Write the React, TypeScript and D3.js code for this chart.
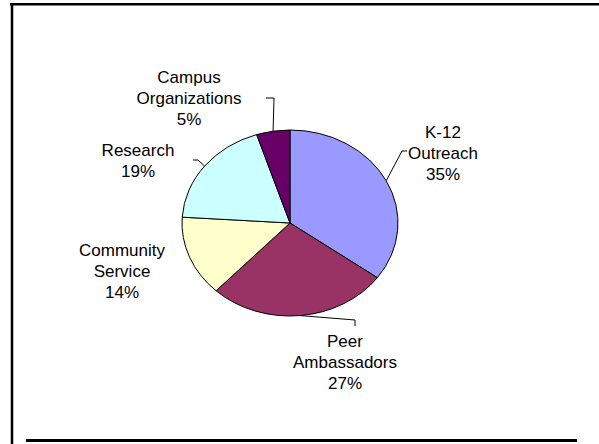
import * as d3 from 'd3';
import React, { useRef, useEffect } from 'react';

// slice data, clockwise from 12 o'clock
const categories = ['K-12 Outreach', 'Peer Ambassadors', 'Community Service', 'Research', 'Campus Organizations'];
const values = [35, 27, 14, 19, 5];
const labelLines = [['K-12', 'Outreach'], ['Peer', 'Ambassadors'], ['Community', 'Service'], ['Research'], ['Campus', 'Organizations']];
const colors = ['#9999FF', '#993366', '#FFFFCC', '#CCFFFF', '#660066'];

// label block centres and leader elbows (layout)
const labelCenter = [[443, 153], [345, 362], [122, 271], [138, 160], [189, 98]];
const leaders: (number[][] | null)[] = [
  [[402, 151], [407, 151]],
  [[355, 320], [355, 326]],
  null,
  [[198, 160], [193, 160]],
  [[274, 98], [266, 98]],
];

function PieChart({ width, height }) {
  const ref = useRef();

  useEffect(() => {
    draw();
  }, []);

  const draw = () => {
    const svg = d3.select(ref.current);
    svg.selectAll('*').remove();

    const cx = 290, cy = 223, rx = 108, ry = 93;
    const fontSize = 17, lineH = 21;

    // frame
    svg.append('line').attr('x1', 10).attr('x2', 599).attr('y1', 4.2).attr('y2', 4.2)
      .attr('stroke', 'black').attr('stroke-width', 2.5);
    svg.append('line').attr('x1', 12).attr('x2', 12).attr('y1', 3).attr('y2', 444)
      .attr('stroke', 'black').attr('stroke-width', 2.5);
    svg.append('line').attr('x1', 26).attr('x2', 577).attr('y1', 440.5).attr('y2', 440.5)
      .attr('stroke', 'black').attr('stroke-width', 3);

    const pie = d3.pie().sort(null).value((d) => d)(values);
    const arc = d3.arc().innerRadius(0).outerRadius(rx);

    const g = svg.append('g')
      .attr('transform', 'translate(' + cx + ',' + cy + ') scale(1,' + (ry / rx) + ')');

    g.selectAll('path')
      .data(pie)
      .enter()
      .append('path')
      .attr('d', arc)
      .attr('fill', (d, i) => colors[i])
      .attr('stroke', 'black')
      .attr('stroke-width', 1)
      .attr('vector-effect', 'non-scaling-stroke');

    // leader lines: from the pie edge at mid angle to the elbow
    pie.forEach((d, i) => {
      const pts = leaders[i];
      if (!pts) return;
      const a = (d.startAngle + d.endAngle) / 2;
      const start = [cx + rx * Math.sin(a), cy - ry * Math.cos(a)];
      svg.append('path')
        .attr('d', d3.line()([start, ...pts]))
        .attr('fill', 'none')
        .attr('stroke', 'black')
        .attr('stroke-width', 1);
    });

    // labels
    categories.forEach((c, i) => {
      const lines = [...labelLines[i], values[i] + '%'];
      const [lx, ly] = labelCenter[i];
      const top = ly - ((lines.length - 1) * lineH) / 2;
      const t = svg.append('text')
        .attr('text-anchor', 'middle')
        .style('font-family', 'Liberation Sans, Arial, sans-serif')
        .style('font-size', fontSize + 'px')
        .style('fill', 'black');
      lines.forEach((s, j) => {
        t.append('tspan')
          .attr('x', lx)
          .attr('y', top + j * lineH + fontSize * 0.36)
          .text(s);
      });
    });
  };

  return <svg ref={ref} width={width} height={height} style={{ display: 'block' }}></svg>;
}

export default function App() {
  return (
    <div style={{ position: 'absolute', left: 0, top: 0 }}>
      <PieChart width={599} height={444} />
    </div>
  );
}
